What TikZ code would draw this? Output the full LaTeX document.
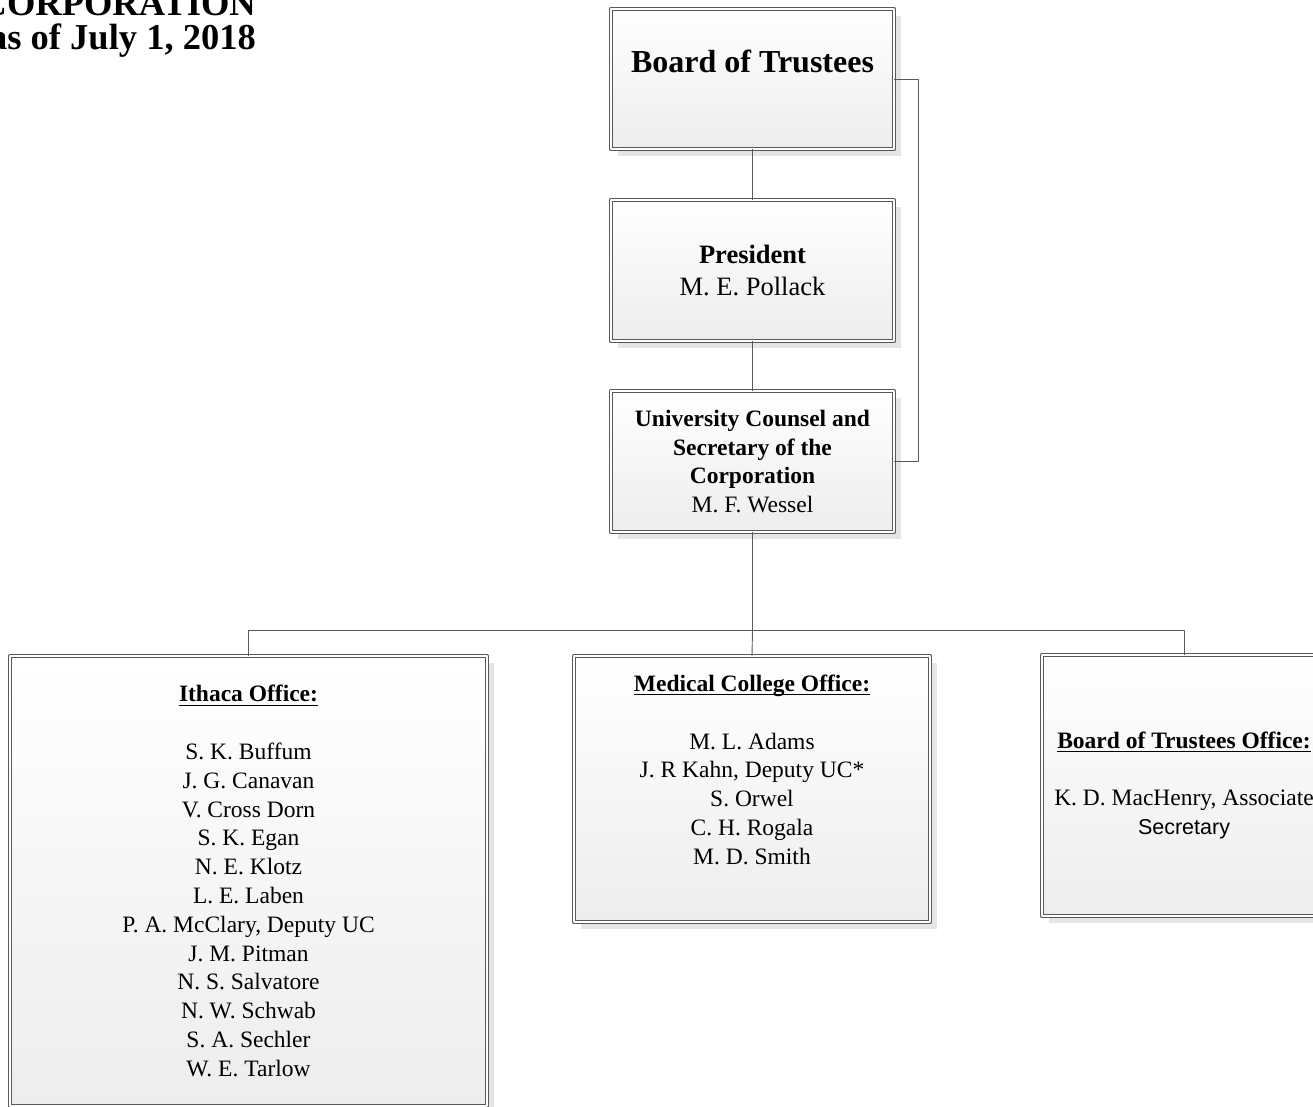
\documentclass[tikz,border=0pt]{standalone}
\usepackage{amsmath}
\usepackage{fontspec}
\setmainfont{Liberation Serif}
\newfontfamily\arialfont{Liberation Sans}
\usetikzlibrary{calc, shadows}

\tikzset{
    office/.style={rectangle, draw=black!65, double=white, double distance=2.4pt, line width=0.9pt,
        top color=white, bottom color=black!7,
        drop shadow={shadow xshift=7pt, shadow yshift=-7pt, fill=black!10, opacity=1},
        align=center, inner sep=0pt, font=\fontsize{23.5}{28.8}\selectfont},
    link/.style={draw=black!65, line width=0.9pt}
}
\newcommand{\hd}[1]{\underline{\smash[b]{\textbf{#1}}}}

\begin{document}
\begin{tikzpicture}[x=1pt, y=-1pt, line cap=round, line join=round]
    \clip (0,0) rectangle (1313,1106);

    % title
    \draw (256,-9) node[anchor=north east, align=right, inner sep=0pt, font=\fontsize{36.5}{34}\selectfont\bfseries] (title) {CORPORATION\\as of July 1, 2018};

    % Top of the chart
    \draw (752.5,79) node[office, minimum width=283pt, minimum height=140pt, font=\fontsize{32}{36}\selectfont] (bot) {\textbf{Board of Trustees}\\ \mbox{}};
    \draw (752.5,270.5) node[office, minimum width=283pt, minimum height=141pt, font=\fontsize{26.5}{32}\selectfont] (pres) {\textbf{President}\\M. E. Pollack};
    \draw (752.5,461.5) node[office, minimum width=283pt, minimum height=141pt] (uc) {\textbf{University Counsel and}\\\textbf{Secretary of the}\\\textbf{Corporation}\\M. F. Wessel};

    % Offices
    \draw (248.5,881) node[office, minimum width=477pt, minimum height=450pt] (ithaca) {\hd{Ithaca Office:}\\ \mbox{}\\S. K. Buffum\\J. G. Canavan\\V. Cross Dorn\\S. K. Egan\\N. E. Klotz\\L. E. Laben\\P. A. McClary, Deputy UC\\J. M. Pitman\\N. S. Salvatore\\N. W. Schwab\\S. A. Sechler\\W. E. Tarlow};
    \draw (752,789) node[office, minimum width=356pt, minimum height=266pt] (med) {\hd{Medical College Office:}\\ \mbox{}\\M. L. Adams\\J. R Kahn, Deputy UC*\\S. Orwel\\C. H. Rogala\\M. D. Smith\\[10pt] \mbox{}};
    \draw (1184,785.5) node[office, minimum width=284pt, minimum height=261pt] (boto) {\hd{Board of Trustees Office:}\\ \mbox{}\\K. D. MacHenry, Associate\\{\arialfont\fontsize{21.5}{28.8}\selectfont Secretary}};

    % Edges
    \foreach \source/\target in {bot/pres, pres/uc} {
            \draw[link] (\source.south) -- (\target.north);
        }
    \draw[link] (bot.east) -- ++(24,0) |- (uc.east);
    \coordinate (bus) at (752.5,630);
    \draw[link] (uc.south) -- (bus) -- (med.north);
    \draw[link] (ithaca.north) |- (bus) -| (boto.north);
\end{tikzpicture}
\end{document}
